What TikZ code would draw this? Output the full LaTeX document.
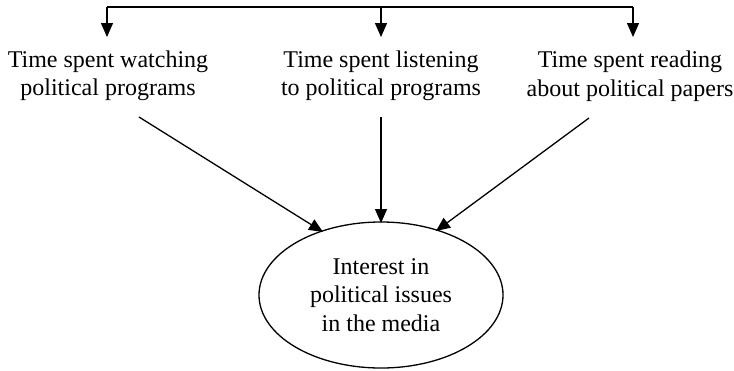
\documentclass[tikz,border=0pt]{standalone}
\usepackage{fontspec}
\setmainfont{Liberation Serif}
\usetikzlibrary{arrows.meta,shapes.geometric}
\tikzset{
  lbl/.style={align=center,inner sep=0pt,font=\fontsize{24bp}{28.5bp}\selectfont},
  conn/.style={line width=1.3bp,-{Triangle[length=14bp,width=12bp]}},
  plain/.style={line width=1.3bp},
  oval/.style={ellipse,draw,line width=1.3bp,minimum width=244bp,minimum height=146bp,inner sep=0pt,align=center,font=\fontsize{24bp}{28.5bp}\selectfont}
}
\begin{document}
\begin{tikzpicture}[x=1bp,y=-1bp]
\useasboundingbox (0,0) rectangle (734,370);
\node[lbl] (n1) at (108,76) {Time spent watching\\political programs};
\node[lbl] (n2) at (381,76) {Time spent listening\\to political programs};
\node[lbl] (n3) at (630,76) {Time spent reading\\about political papers};
\node[oval] (e) at (381,295) {Interest in\\political issues\\in the media};
\coordinate (t1) at (107,7);
\coordinate (t2) at (381,7);
\coordinate (t3) at (633,7);
\coordinate (a1) at (107,37);
\coordinate (a2) at (381,37);
\coordinate (a3) at (633,37);
\draw[plain] (t1) -- (t3);
\draw[conn] (t1) -- (a1);
\draw[conn] (t2) -- (a2);
\draw[conn] (t3) -- (a3);
\coordinate (s1) at (139,117);
\coordinate (s2) at (381,117);
\coordinate (s3) at (589,118);
\coordinate (d1) at (323,232);
\coordinate (d2) at (381,223);
\coordinate (d3) at (436,231);
\draw[conn] (s1) -- (d1);
\draw[conn] (s2) -- (d2);
\draw[conn] (s3) -- (d3);
\end{tikzpicture}
\end{document}
